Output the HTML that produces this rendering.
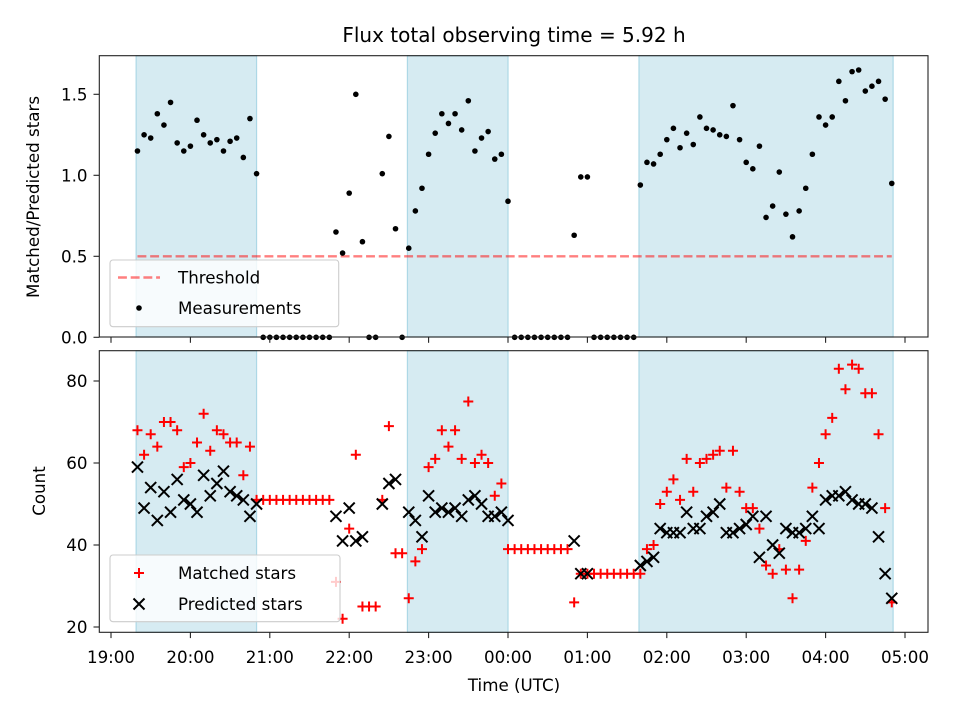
<!DOCTYPE html>
<html><head><meta charset="utf-8"><style>
html,body{margin:0;padding:0;background:#fff;}
svg{display:block;font-family:"DejaVu Sans","Liberation Sans",sans-serif;}
</style></head><body>
<svg id="fig" width="960" height="720" viewBox="0 0 960 720" xmlns="http://www.w3.org/2000/svg"></svg>
<script>
const times = [20,25,30,35,40,45,50,55,60,65,70,75,80,85,90,95,100,105,110,115,120,125,130,135,140,145,150,155,160,165,170,175,180,185,190,195,200,205,210,215,220,225,230,235,240,245,250,255,260,265,270,275,280,285,290,295,300,305,310,315,320,325,330,335,340,345,350,355,360,365,370,375,380,385,390,395,400,405,410,415,420,425,430,435,440,445,450,455,460,465,470,475,480,485,490,495,500,505,510,515,520,525,530,535,540,545,550,555,560,565,570,575,580,585,590];
const ratio = [1.15,1.25,1.23,1.38,1.31,1.45,1.20,1.15,1.18,1.34,1.25,1.20,1.22,1.15,1.21,1.23,1.11,1.35,1.01,
0,0,0,0,0,0,0,0,0,0,0,
0.65,0.52,0.89,1.50,0.59,0,0,
1.01,1.24,0.67,0,0.55,0.78,0.92,1.13,1.26,1.38,1.32,1.38,1.28,1.46,1.15,1.23,1.27,1.10,1.13,0.84,
0,0,0,0,0,0,0,0,0,
0.63,0.99,0.99,
0,0,0,0,0,0,0,
0.94,1.08,1.07,1.13,1.22,1.29,1.17,1.26,1.19,1.36,1.29,1.28,1.25,1.24,1.43,1.22,1.08,1.04,1.18,0.74,0.81,1.02,0.76,0.62,0.78,0.92,1.13,1.36,1.31,1.36,1.58,1.46,1.64,1.65,1.52,1.55,1.58,1.47,0.95];
const matched = [68,62,67,64,70,70,68,59,60,65,72,63,68,67,65,65,57,64,51,
51,51,51,51,51,51,51,51,51,51,51,
31,22,44,62,25,25,25,
51,69,38,38,27,36,39,59,61,68,64,68,61,75,60,62,60,52,55,39,
39,39,39,39,39,39,39,39,39,
26,33,33,
33,33,33,33,33,33,33,
33,39,40,50,53,56,51,61,53,60,61,62,63,54,63,53,49,49,44,35,33,39,34,27,34,41,54,60,67,71,83,78,84,83,77,77,67,49,26];
const predicted = [59,49,54,46,53,48,56,51,50,48,57,52,55,58,53,52,51,47,50,
null,null,null,null,null,null,null,null,null,null,null,
47,41,49,41,42,null,null,
50,55,56,null,48,46,42,52,48,49,48,49,47,51,52,50,47,47,48,46,
null,null,null,null,null,null,null,null,null,
41,33,33,
null,null,null,null,null,null,null,
35,36,37,44,43,43,43,48,44,44,47,48,50,43,43,44,45,47,37,47,40,38,44,43,43,44,47,44,51,52,52,53,51,50,50,49,42,33,27];
const threshold = 0.5;
const bandStart = [19,224,399];
const bandEnd = [110,300,591];
const xTickLabels = ["19:00","20:00","21:00","22:00","23:00","00:00","01:00","02:00","03:00","04:00","05:00"];
const topYTicks = [0.0,0.5,1.0,1.5];
const botYTicks = [20,40,60,80];

const NS="http://www.w3.org/2000/svg";
const svg=document.getElementById('fig');
function el(tag,attrs,parent){const e=document.createElementNS(NS,tag);for(const k in attrs)e.setAttribute(k,attrs[k]);(parent||svg).appendChild(e);return e;}
const L=99.3,R=928;
const T1=55.7,B1=337;
const T2=350.7,B2=632.3;
function xs(min){return 111+79.4*(min/60);}
function y1(v){return 337.3-162*v;}
function y2(c){return 381-(c-80)*4.1;}

function axesFrame(top,bot,name){
  const g=el('g',{});
  
  
  for(let i=0;i<bandStart.length;i++){
    const r=el('rect',{x:xs(bandStart[i]),y:top,width:xs(bandEnd[i])-xs(bandStart[i]),height:bot-top,fill:'#add8e6','fill-opacity':0.5,stroke:'#add8e6','stroke-width':1.2},g);
    
    
  }
  return g;
}
function spines(top,bot,name){
  const r=el('rect',{x:L,y:top,width:R-L,height:bot-top,fill:'none',stroke:'#222','stroke-width':1.1});
  
  
  for(let i=0;i<xTickLabels.length;i++){
    const x=111+79.4*i;
    const t=el('line',{x1:x,x2:x,y1:bot,y2:bot+5.8,stroke:'#222','stroke-width':1.1});
    
    
  }
}

// title
const title=el('text',{x:514,y:42,'text-anchor':'middle','font-size':20,fill:'#000'});
title.textContent='Flux total observing time = 5.92 h';



// ---------- top axes ----------
axesFrame(T1,B1,'top-axes');
const thr=el('line',{x1:xs(times[0]),x2:xs(times[times.length-1]),y1:y1(threshold),y2:y1(threshold),stroke:'#ff0000','stroke-opacity':0.5,'stroke-width':2.4,'stroke-dasharray':'8.9,3.8'});


for(let i=0;i<times.length;i++){
  const c=el('circle',{cx:xs(times[i]),cy:y1(ratio[i]),r:2.8,fill:'#000'});
  
  
}
spines(T1,B1,'top-axes-frame');
topYTicks.forEach(v=>{
  const y=y1(v);
  el('line',{x1:L-5.8,x2:L,y1:y,y2:y,stroke:'#222','stroke-width':1.1});
  const t=el('text',{x:87.5,y:y+6,'text-anchor':'end','font-size':16.7,fill:'#000'});
  t.textContent=v.toFixed(1);
  
  
});
const yl1=el('text',{x:0,y:0,transform:'translate(39,197) rotate(-90)','text-anchor':'middle','font-size':16.7,fill:'#000'});
yl1.textContent='Matched/Predicted stars';


// top legend
const lg1=el('g',{});


el('rect',{x:110,y:260,width:228.7,height:66.7,rx:3,fill:'#fff','fill-opacity':0.8,stroke:'#ccc','stroke-width':1.1},lg1);
el('line',{x1:118,x2:160,y1:277.5,y2:277.5,stroke:'#ff0000','stroke-opacity':0.5,'stroke-width':2.4,'stroke-dasharray':'8.9,3.8'},lg1);
const lt1=el('text',{x:178,y:283.5,'font-size':16.7,fill:'#000'},lg1);lt1.textContent='Threshold';


el('circle',{cx:139,cy:308,r:2.8,fill:'#000'},lg1);
const lt2=el('text',{x:178,y:314,'font-size':16.7,fill:'#000'},lg1);lt2.textContent='Measurements';



// ---------- bottom axes ----------
axesFrame(T2,B2,'bottom-axes');
for(let i=0;i<times.length;i++){
  const x=xs(times[i]),y=y2(matched[i]);
  const p=el('path',{d:`M${x-5},${y}H${x+5}M${x},${y-5}V${y+5}`,stroke:'#ff0000','stroke-width':2,fill:'none'});
  
  
}
for(let i=0;i<times.length;i++){
  if(predicted[i]===null)continue;
  const x=xs(times[i]),y=y2(predicted[i]),h=5.5;
  const p=el('path',{d:`M${x-h},${y-h}L${x+h},${y+h}M${x-h},${y+h}L${x+h},${y-h}`,stroke:'#000','stroke-width':2,fill:'none'});
  
  
}
spines(T2,B2,'bottom-axes-frame');
botYTicks.forEach(v=>{
  const y=y2(v);
  el('line',{x1:L-5.8,x2:L,y1:y,y2:y,stroke:'#222','stroke-width':1.1});
  const t=el('text',{x:87.5,y:y+6,'text-anchor':'end','font-size':16.7,fill:'#000'});
  t.textContent=String(v);
  
  
});
xTickLabels.forEach((s,i)=>{
  const t=el('text',{x:111+79.4*i,y:663,'text-anchor':'middle','font-size':16.7,fill:'#000'});
  t.textContent=s;
  
  
});
const yl2=el('text',{x:0,y:0,transform:'translate(45,491) rotate(-90)','text-anchor':'middle','font-size':16.7,fill:'#000'});
yl2.textContent='Count';


const xl=el('text',{x:514,y:691,'text-anchor':'middle','font-size':16.7,fill:'#000'});
xl.textContent='Time (UTC)';


// bottom legend
const lg2=el('g',{});


el('rect',{x:110,y:555,width:230,height:66.7,rx:3,fill:'#fff','fill-opacity':0.8,stroke:'#ccc','stroke-width':1.1},lg2);
el('path',{d:'M134,573H144M139,568V578',stroke:'#ff0000','stroke-width':2,fill:'none'},lg2);
const lt3=el('text',{x:178,y:579,'font-size':16.7,fill:'#000'},lg2);lt3.textContent='Matched stars';


el('path',{d:'M133.5,598.5L144.5,609.5M133.5,609.5L144.5,598.5',stroke:'#000','stroke-width':2,fill:'none'},lg2);
const lt4=el('text',{x:178,y:610,'font-size':16.7,fill:'#000'},lg2);lt4.textContent='Predicted stars';


</script>
</body></html>
